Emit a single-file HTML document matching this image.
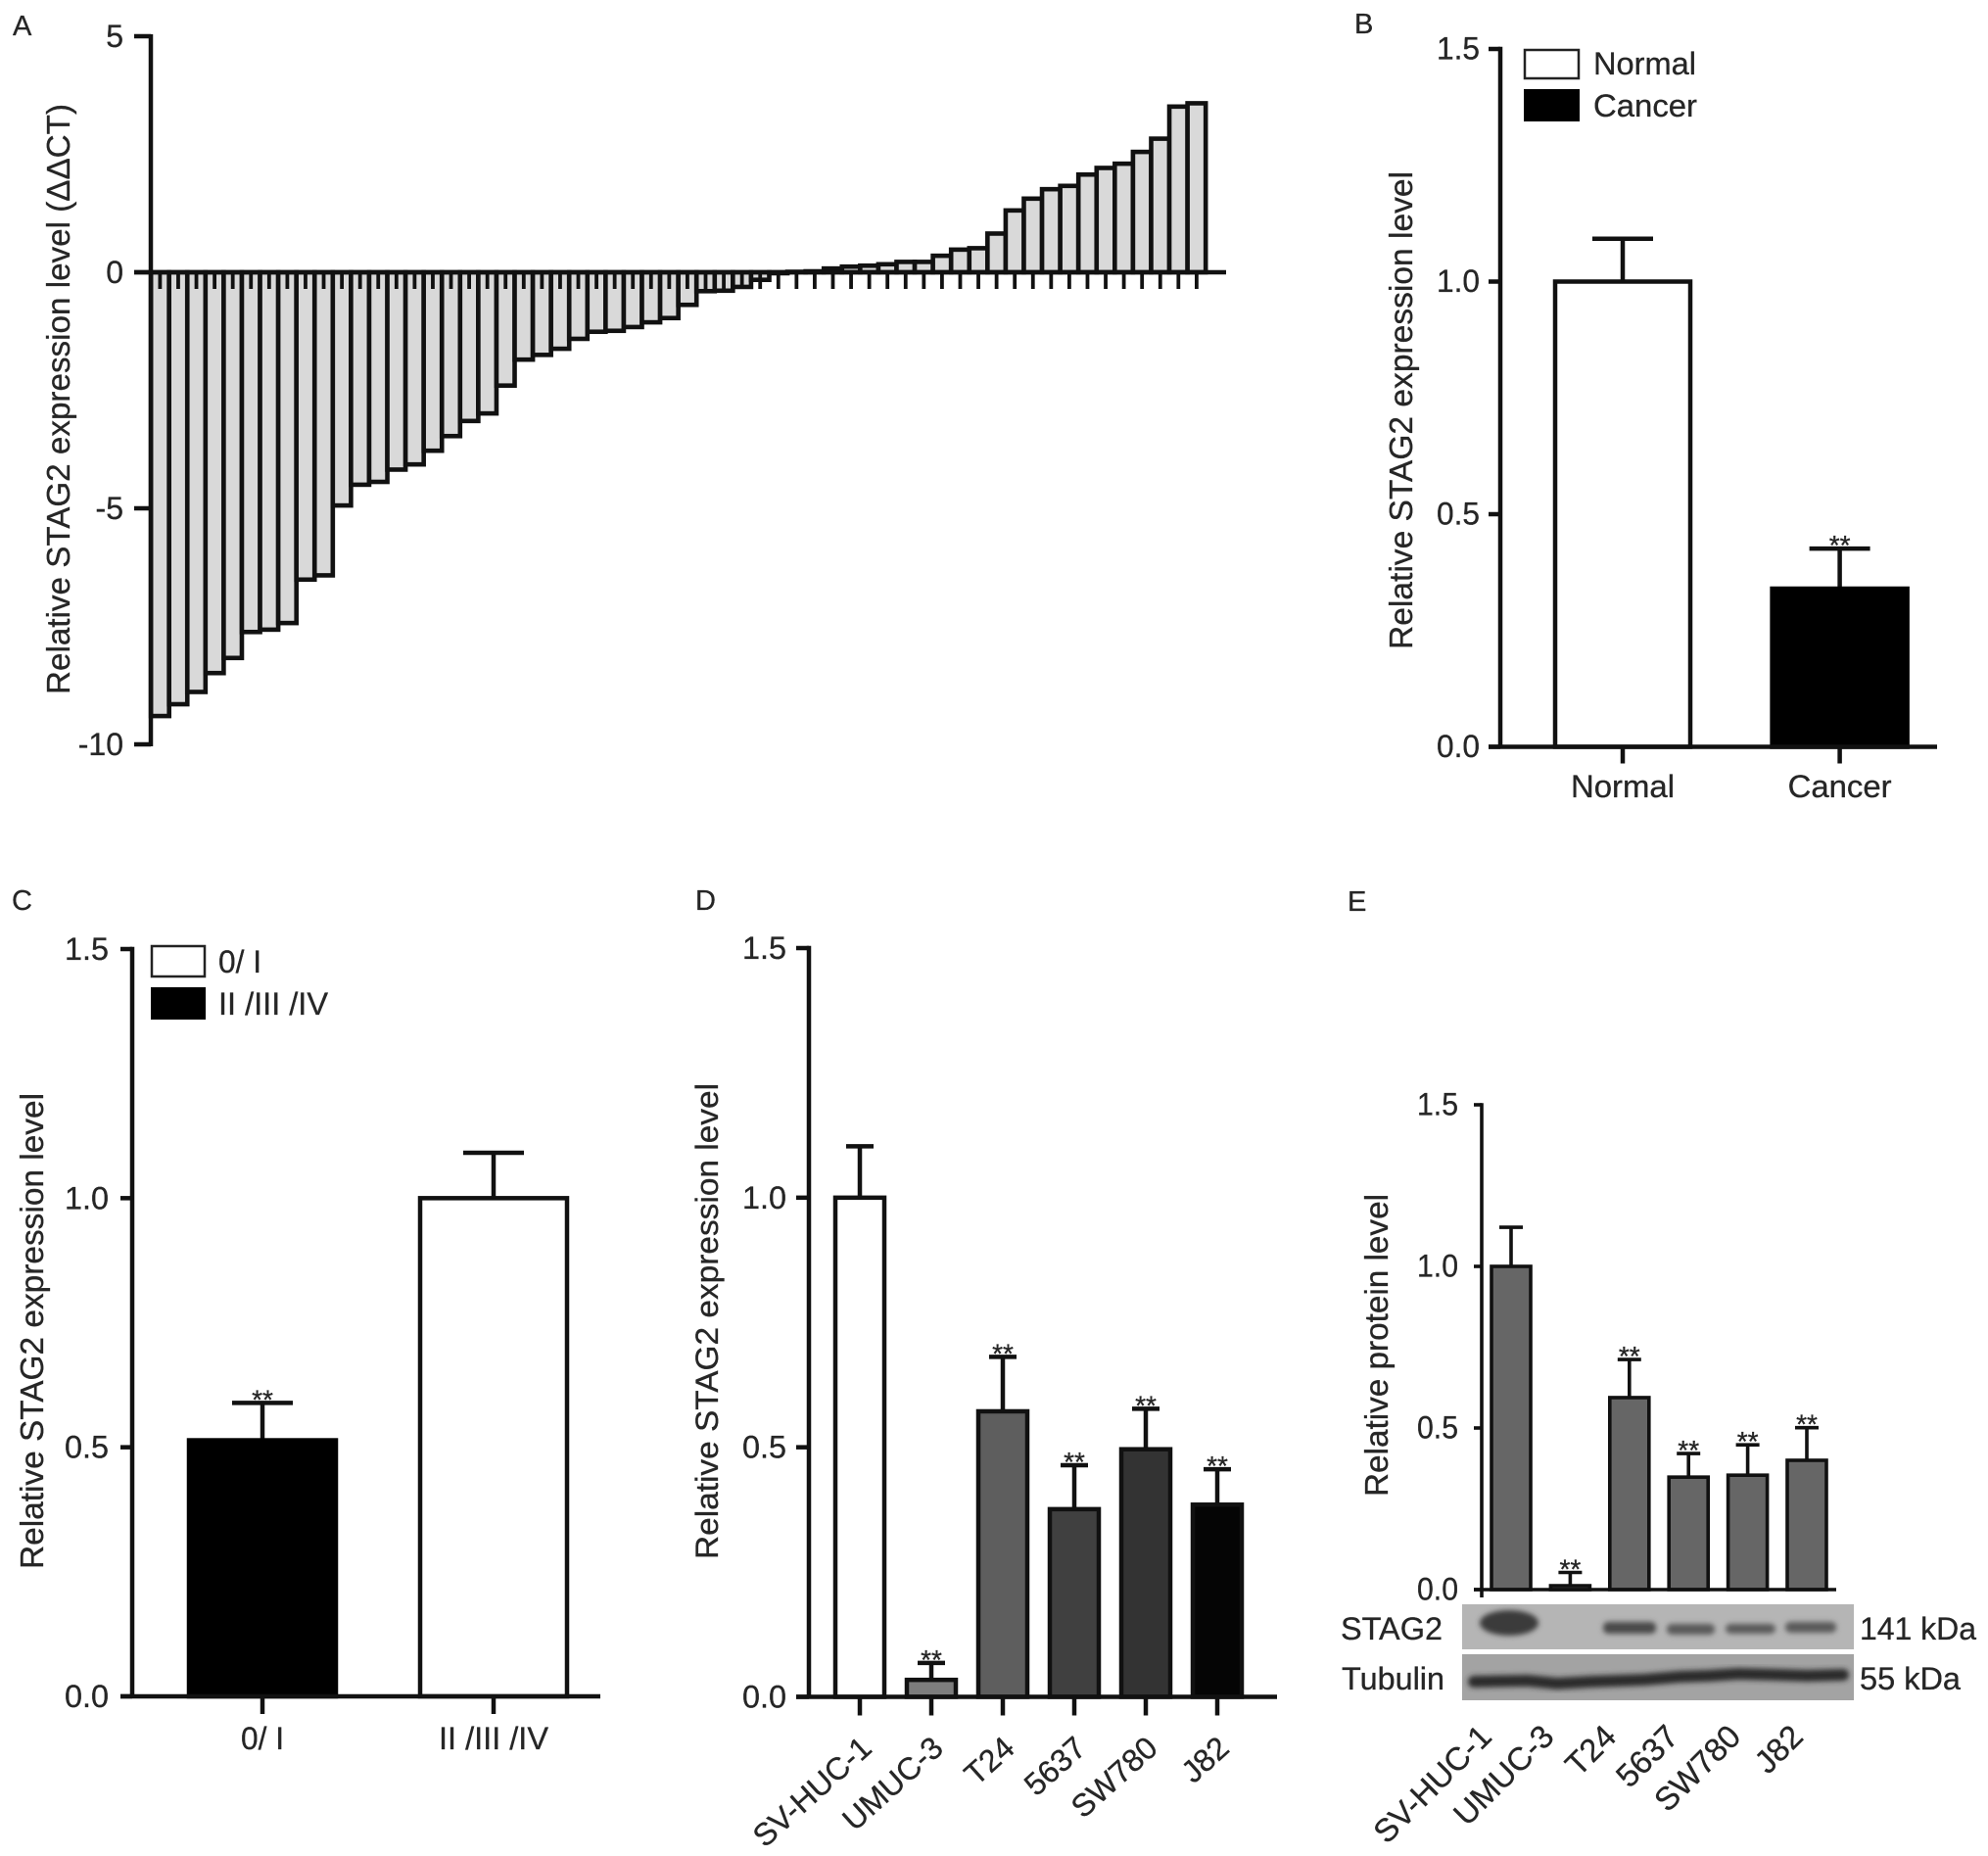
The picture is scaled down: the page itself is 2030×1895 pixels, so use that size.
<!DOCTYPE html>
<html lang="en">
<head>
<meta charset="utf-8">
<title>STAG2 expression figure</title>
<style>
html,body{margin:0;padding:0;background:#fff;}
svg{display:block;}
text{font-family:"Liberation Sans",sans-serif;fill:#262626;stroke:#262626;stroke-width:.3px;}
</style>
</head>
<body>
<svg id="fig" xmlns="http://www.w3.org/2000/svg" width="2030" height="1895" viewBox="0 0 2030 1895">
  <defs>
    <filter id="soft" x="-20%" y="-100%" width="140%" height="300%"><feGaussianBlur stdDeviation="2.6"/></filter>
    <filter id="softer" x="-20%" y="-50%" width="140%" height="200%"><feGaussianBlur stdDeviation="4"/></filter>
  </defs>
  <rect width="2030" height="1895" fill="#fff"/>

  <text x="13" y="36" font-size="29">A</text>
  <text x="1383" y="34" font-size="29">B</text>
  <text x="12" y="929" font-size="29">C</text>
  <text x="710" y="929" font-size="29">D</text>
  <text x="1376" y="930" font-size="29">E</text>

  <text transform="translate(71 709) rotate(-90)" font-size="33" textLength="603" lengthAdjust="spacingAndGlyphs">Relative STAG2 expression level (ΔΔCT)</text>
  <text transform="translate(1442 663) rotate(-90)" font-size="33" textLength="488" lengthAdjust="spacingAndGlyphs">Relative STAG2 expression level</text>
  <text transform="translate(44 1602) rotate(-90)" font-size="33" textLength="486" lengthAdjust="spacingAndGlyphs">Relative STAG2 expression level</text>
  <text transform="translate(733 1592) rotate(-90)" font-size="32" textLength="486" lengthAdjust="spacingAndGlyphs">Relative STAG2 expression level</text>
  <text transform="translate(1417 1528) rotate(-90)" font-size="33" textLength="309" lengthAdjust="spacingAndGlyphs">Relative protein level</text>

  <g>
    <rect x="1557" y="51" width="55" height="29" fill="#fff" stroke="#222" stroke-width="2.5"/>
    <rect x="1556" y="91" width="57" height="33" fill="#000"/>
    <text x="1627" y="76" font-size="32" textLength="105" lengthAdjust="spacingAndGlyphs">Normal</text>
    <text x="1627" y="119" font-size="32" textLength="106" lengthAdjust="spacingAndGlyphs">Cancer</text>
  </g>
  <g>
    <rect x="155" y="966" width="54" height="31" fill="#fff" stroke="#222" stroke-width="2.5"/>
    <rect x="154" y="1008" width="56" height="33" fill="#000"/>
    <text x="223" y="993" font-size="32" textLength="44" lengthAdjust="spacingAndGlyphs">0/ I</text>
    <text x="223" y="1036" font-size="32" textLength="112" lengthAdjust="spacingAndGlyphs">II /III /IV</text>
  </g>

  <g>
    <rect x="1493" y="1638" width="400" height="46" fill="#b5b5b5"/>
    <rect x="1493" y="1689" width="400" height="47" fill="#a3a3a3"/>
    <g fill="#3c3c3c" filter="url(#soft)">
      <ellipse cx="1541" cy="1657" rx="30" ry="13" fill="#3a3a3a"/>
      <rect x="1637" y="1656" width="54" height="12" rx="5" fill="#4a4a4a"/>
      <rect x="1702" y="1658" width="49" height="11" rx="5" fill="#5a5a5a"/>
      <rect x="1762" y="1658" width="51" height="10" rx="5" fill="#5a5a5a"/>
      <rect x="1823" y="1656" width="52" height="11" rx="5" fill="#5a5a5a"/>
    </g>
    <path d="M1505 1717 L1560 1716 L1590 1719 L1625 1717 L1680 1715 L1715 1712 L1745 1711 L1775 1709 L1815 1710 L1845 1711 L1882 1710" fill="none" stroke="#2c2c2c" stroke-width="12" stroke-linecap="round" filter="url(#soft)"/>
    <text x="1369" y="1674" font-size="32" textLength="104" lengthAdjust="spacingAndGlyphs">STAG2</text>
    <text x="1370" y="1725" font-size="32" textLength="105" lengthAdjust="spacingAndGlyphs">Tubulin</text>
    <text x="1899" y="1674" font-size="32" textLength="119" lengthAdjust="spacingAndGlyphs">141 kDa</text>
    <text x="1899" y="1725" font-size="32" textLength="103" lengthAdjust="spacingAndGlyphs">55 kDa</text>
  </g>

  <g id="chart-a"></g>
  <g id="chart-b"></g>
  <g id="chart-c"></g>
  <g id="chart-d"></g>
  <g id="chart-e"></g>
</svg>

<script>
// ---- Chart data ----
const valuesA = [-9.40,-9.15,-8.89,-8.49,-8.17,-7.62,-7.57,-7.43,-6.51,-6.42,-4.94,-4.50,-4.44,-4.18,-4.07,-3.78,-3.47,-3.15,-2.99,-2.40,-1.85,-1.75,-1.62,-1.41,-1.26,-1.24,-1.16,-1.06,-0.97,-0.69,-0.40,-0.39,-0.31,-0.16,-0.02,0.01,0.02,0.08,0.12,0.14,0.17,0.22,0.22,0.35,0.48,0.51,0.82,1.31,1.56,1.76,1.83,2.07,2.21,2.30,2.55,2.83,3.51,3.58];
const ticksA = [5,0,-5,-10];
const tickLabelsA = ['5','0','-5','-10'];

const ticksRel = [0,0.5,1,1.5];
const tickLabelsRel = ['0.0','0.5','1.0','1.5'];

const categoriesB = ['Normal','Cancer'];
const valuesB = [1.0,0.34];
const errorsB = [0.092,0.086];
const sigB = ['','**'];

const categoriesC = ['0/ I','II /III /IV'];
const valuesC = [0.514,1.0];
const errorsC = [0.075,0.091];
const sigC = ['**',''];

const categoriesD = ['SV-HUC-1','UMUC-3','T24','5637','SW780','J82'];
const valuesD = [1.0,0.034,0.572,0.376,0.496,0.385];
const errorsD = [0.103,0.034,0.109,0.088,0.081,0.071];
const sigD = ['','**','**','**','**','**'];

const categoriesE = ['SV-HUC-1','UMUC-3','T24','5637','SW780','J82'];
const valuesE = [1.0,0.012,0.594,0.348,0.354,0.40];
const errorsE = [0.121,0.041,0.118,0.073,0.094,0.101];
const sigE = ['','**','**','**','**','**'];

// ---- Styles (kept apart from the data) ----
const fillsB = ['#ffffff','#000000'];
const fillsC = ['#000000','#ffffff'];
const fillsD = ['#ffffff','#7d7d7d','#5e5e5e','#404040','#333333','#050505'];
const fillsE = ['#666666','#666666','#666666','#666666','#666666','#666666'];
const INK = '#111111';
const NS = 'http://www.w3.org/2000/svg';

function make(tag, parent, attrs) {
  const el = document.createElementNS(NS, tag);
  for (const k in attrs) el.setAttribute(k, attrs[k]);
  parent.appendChild(el);
  return el;
}
function linearScale(dom0, dom1, px0, px1) {
  return function (v) { return px0 + (v - dom0) * (px1 - px0) / (dom1 - dom0); };
}
function bandScale(first, step) {
  return function (i) { return first + i * step; };
}

function drawYAxis(g, y, opt, ticks, labels, suffix) {
  const axis = make('line', g, {x1: opt.axisX, x2: opt.axisX, y1: opt.axisTop, y2: opt.axisBottom, stroke: INK, 'stroke-width': opt.sw});
  
  
  ticks.forEach(function (t, i) {
    const tick = make('line', g, {x1: opt.tickX, x2: opt.axisX, y1: y(t), y2: y(t), stroke: INK, 'stroke-width': opt.sw});
    
    
    const attrs = {x: opt.labelX, y: y(t) + opt.labelDy, 'font-size': opt.fs, 'text-anchor': 'end'};
    if (opt.labelLen) { attrs.textLength = opt.labelLen; attrs.lengthAdjust = 'spacingAndGlyphs'; }
    const label = make('text', g, attrs);
    label.textContent = labels[i];
    
    
  });
}

function drawBars(g, suffix, opt, categories, values, errors, sig, fills) {
  const y = linearScale(0, 1.5, opt.y0, opt.y15);
  const x = bandScale(opt.first, opt.step);
  const labelX = bandScale(opt.first, opt.labelStep || opt.step);
  const half = opt.barW / 2;

  values.forEach(function (v, i) {
    const cx = x(i);
    const errTop = y(v + errors[i]);
    const stem = make('line', g, {x1: cx, x2: cx, y1: y(v), y2: errTop, stroke: INK, 'stroke-width': opt.sw});
    
    
    const cap = make('line', g, {x1: cx - opt.capW, x2: cx + opt.capW, y1: errTop, y2: errTop, stroke: INK, 'stroke-width': opt.sw});
    
    
    const bar = make('rect', g, {x: cx - half, y: y(v), width: opt.barW, height: y(0) - y(v), fill: fills[i], stroke: fills[i] === '#ffffff' ? INK : (opt.darkEdge || fills[i]), 'stroke-width': opt.sw});
    
    
    if (sig[i]) {
      const star = make('text', g, {x: cx, y: errTop + 6, 'font-size': 28, 'text-anchor': 'middle'});
      star.textContent = sig[i];
      
      
    }
  });

  const base = make('line', g, {x1: opt.tickX, x2: opt.axisEnd, y1: y(0), y2: y(0), stroke: INK, 'stroke-width': opt.sw});
  
  

  drawYAxis(g, y, {axisX: opt.axisX, axisTop: y(1.5) - opt.sw / 2, axisBottom: opt.axisBottom || y(0), tickX: opt.tickX, sw: opt.sw, labelX: opt.labelX, labelDy: opt.labelDy, fs: opt.fs, labelLen: opt.labelLen}, ticksRel, tickLabelsRel, suffix);

  categories.forEach(function (c, i) {
    if (opt.tickLen) {
      const tick = make('line', g, {x1: x(i), x2: x(i), y1: y(0), y2: y(0) + opt.tickLen, stroke: INK, 'stroke-width': opt.sw});
      
      
    }
    let attrs;
    if (opt.rotate) {
      const ax = labelX(i) + opt.rotDx;
      const ay = y(0) + opt.rotDy;
      attrs = {transform: 'translate(' + ax + ' ' + ay + ') rotate(' + opt.rotate + ')', 'font-size': opt.xfs, 'text-anchor': 'end'};
    } else {
      attrs = {x: x(i), y: opt.xLabelY, 'font-size': opt.xfs, 'text-anchor': 'middle', textLength: opt.xLens[i], lengthAdjust: 'spacingAndGlyphs'};
    }
    const label = make('text', g, attrs);
    label.textContent = c;
    
    
  });
}

// ---- Panel A ----
(function () {
  const g = document.getElementById('chart-a');
  const y = linearScale(0, -10, 278, 760);
  const x = bandScale(163.4, 18.57);
  valuesA.forEach(function (v, i) {
    const top = Math.min(y(v), y(0));
    const bar = make('rect', g, {x: x(i) - 9.28, y: top, width: 18.57, height: Math.abs(y(v) - y(0)), fill: '#d9d9d9', stroke: INK, 'stroke-width': 4.6});
    
    
  });
  valuesA.forEach(function (v, i) {
    const tick = make('line', g, {x1: x(i), x2: x(i), y1: y(0), y2: y(0) + 17, stroke: INK, 'stroke-width': 3.8});
    
    
  });
  const base = make('line', g, {x1: 137, x2: 1252, y1: y(0), y2: y(0), stroke: INK, 'stroke-width': 4.5});
  
  
  drawYAxis(g, y, {axisX: 154, axisTop: y(5) - 2, axisBottom: y(-10) + 2, tickX: 137, sw: 4.5, labelX: 126, labelDy: 11, fs: 32}, ticksA, tickLabelsA, 'a');
})();

// ---- Panels B–E ----
drawBars(document.getElementById('chart-b'), 'b', {
  y0: 762.5, y15: 50, first: 1657, step: 221.6, barW: 138, capW: 31, sw: 4.5,
  axisX: 1532, tickX: 1520, axisEnd: 1978, labelX: 1511, labelDy: 10.5, fs: 32, labelLen: 44,
  tickLen: 17, xfs: 32, xLabelY: 814, xLens: [106,106]
}, categoriesB, valuesB, errorsB, sigB, fillsB);

drawBars(document.getElementById('chart-c'), 'c', {
  y0: 1732, y15: 969, first: 268, step: 236, barW: 150, capW: 31, sw: 4.5,
  axisX: 135, tickX: 123, axisEnd: 613, labelX: 111, labelDy: 11, fs: 32, labelLen: 45,
  tickLen: 18, xfs: 32, xLabelY: 1786, xLens: [44,112]
}, categoriesC, valuesC, errorsC, sigC, fillsC);

drawBars(document.getElementById('chart-d'), 'd', {
  y0: 1732.5, y15: 968, first: 878, step: 73, barW: 50, capW: 14, sw: 4.5, darkEdge: '#111111',
  axisX: 826, tickX: 813, axisEnd: 1304, labelX: 803, labelDy: 11, fs: 32, labelLen: 45,
  tickLen: 19, xfs: 32, rotate: -42, rotDx: 14, rotDy: 55
}, categoriesD, valuesD, errorsD, sigD, fillsD);

drawBars(document.getElementById('chart-e'), 'e', {
  y0: 1623, y15: 1128, first: 1543, step: 60.4, labelStep: 63.6, barW: 40, capW: 12, sw: 3.6, darkEdge: '#111111',
  axisX: 1513, tickX: 1505, axisEnd: 1875, axisBottom: 1631, labelX: 1489, labelDy: 10.5, fs: 32, labelLen: 42,
  tickLen: 0, xfs: 33, rotate: -45, rotDx: -18, rotDy: 152
}, categoriesE, valuesE, errorsE, sigE, fillsE);
</script>
</body>
</html>
